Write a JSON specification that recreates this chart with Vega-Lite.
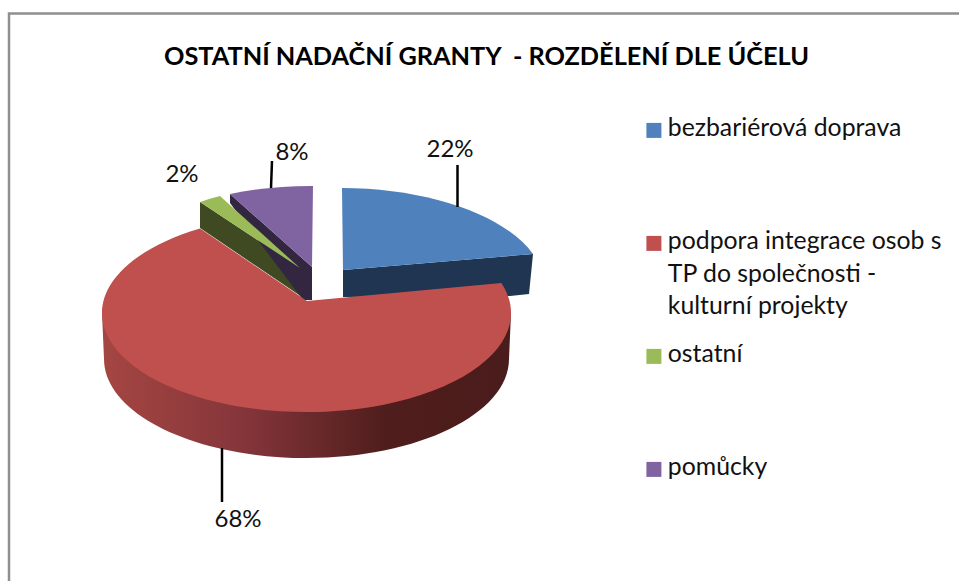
{
"$schema":"https://vega.github.io/schema/vega-lite/v6.json",
"width":959,"height":581,"padding":0,"autosize":"none","background":"white",
"config":{"view":{"stroke":null},"font":"Lato"},
"title":{"text":"OSTATNÍ NADAČNÍ GRANTY \u00a0- ROZDĚLENÍ DLE ÚČELU","font":"Lato","fontSize":25.3,"fontWeight":"bold","color":"#000000","anchor":"middle","frame":"group","offset":0,"baseline":"alphabetic","dy":90,"dx":7},
"data":{"values":[
{"category":"bezbariérová doprava","value":22,"label":"22%"},
{"category":"podpora integrace osob s TP do společnosti - kulturní projekty","value":68,"label":"68%"},
{"category":"ostatní","value":2,"label":"2%"},
{"category":"pomůcky","value":8,"label":"8%"}
]},
"resolve":{"scale":{"shape":"independent","fill":"independent","color":"independent"}},
"layer":[
{"mark":{"type":"square","size":225,"opacity":0},
"encoding":{"color":{"field":"category","sort":null,"scale":{"domain":["bezbariérová doprava","podpora integrace osob s TP do společnosti - kulturní projekty","ostatní","pomůcky"],"range":["#4f81bd","#c0504d","#9bbb59","#8064a2"]},
"legend":{"title":null,"orient":"none","legendX":641.5,"legendY":118,"symbolType":"square","symbolSize":225,"symbolOpacity":1,"labelFont":"Lato","labelFontSize":24.8,"labelColor":"#111111","labelLimit":400,"labelOffset":1.5,"rowPadding":22,"labelBaseline":"top",
"labelExpr":"indexof(datum.label,'podpora')==0 ? ['podpora integrace osob s','TP do společnosti -','kulturní projekty'] : [datum.label,' ',' ']",
"encode":{"labels":{"update":{"lineHeight":{"value":32.5},"dy":{"value":-14}}}}}}}},
{"data":{"values":[{"part":"frame"}]},"mark":{"type":"point","shape":"M-470.5,290.5 L-470.5,-277 L479.5,-277","size":4,"filled":false,"stroke":"#8f8f8f","strokeWidth":2.5,"opacity":1}},
{"transform":[{"filter":"datum.value != 68"}],
"mark":{"type":"point","filled":true,"size":4,"opacity":1},
"encoding":{
"shape":{"field":"category","legend":null,"scale":{"domain":["bezbariérová doprava","ostatní","pomůcky"],"range":["M-136.5,-20.5 L53.5,-36.5 L49.5,3.5 L30.5,5.5 L-136.5,6.5 Z","M-279.5,-88.5 L-179.5,-22.5 L-177.5,6.5 L-279.5,-62.5 Z","M-249.5,-96.5 L-167.5,-23.5 L-167.5,9.5 L-176.5,9.5 L-249.5,-87.5 Z"]}},
"fill":{"field":"category","legend":null,"scale":{"domain":["bezbariérová doprava","ostatní","pomůcky"],"range":["#1f3552","#3f4a22","#332640"]}}}},
{"transform":[{"filter":"datum.value == 68"}],
"mark":{"type":"point","filled":true,"size":4,"opacity":1,"shape":"M-377.5,22.5 L31.5,22.5 L29.5,68.5 A202.5,99 0 0 1 -375.5,68.5 Z",
"fill":{"gradient":"linear","x1":0,"x2":1,"y1":0,"y2":0,"stops":[{"offset":0,"color":"#a54642"},{"offset":0.35,"color":"#84353a"},{"offset":0.7,"color":"#4f1d1c"},{"offset":1,"color":"#4a1c1b"}]}}},
{"mark":{"type":"point","filled":true,"size":4,"opacity":1},
"encoding":{
"shape":{"field":"category","legend":null,"sort":null,"scale":{"domain":["bezbariérová doprava","podpora integrace osob s TP do společnosti - kulturní projekty","ostatní","pomůcky"],"range":["M-137.5,-102.5 A204,99 0 0 1 53.5,-36.5 L-136.5,-20.5 Z","M-279.5,-62 L-172.5,10.5 L21.9,-7.5 A204.5,99 0 1 1 -279.5,-62 Z","M-279.5,-88.5 A204,99 0 0 1 -259.5,-94.5 L-179.5,-22.5 Z","M-249.5,-96.5 A204,99 0 0 1 -166.5,-104.5 L-167.5,-23.5 Z"]}},
"fill":{"field":"category","legend":null,"sort":null,"scale":{"domain":["bezbariérová doprava","podpora integrace osob s TP do společnosti - kulturní projekty","ostatní","pomůcky"],"range":["#4f81bd","#c0504d","#9bbb59","#8064a2"]}}}},
{"transform":[{"filter":"datum.value != 2"}],
"mark":{"type":"point","filled":false,"size":4,"opacity":1,"stroke":"#000000","strokeWidth":2.5},
"encoding":{"shape":{"field":"category","legend":null,"scale":{"domain":["bezbariérová doprava","podpora integrace osob s TP do společnosti - kulturní projekty","pomůcky"],"range":["M-22,-125.5 L-22,-83.5","M-257.5,157.5 L-257.5,211.5","M-207.5,-129.5 L-208.5,-102.5"]}}}},
{"transform":[{"filter":"datum.value == 22"}],"mark":{"type":"text","align":"center","baseline":"alphabetic","fontSize":24,"font":"Lato","color":"#111111","dx":-29.5,"dy":-133.5},"encoding":{"text":{"field":"label"}}},
{"transform":[{"filter":"datum.value == 68"}],"mark":{"type":"text","align":"center","baseline":"alphabetic","fontSize":24,"font":"Lato","color":"#111111","dx":-241.5,"dy":236.5},"encoding":{"text":{"field":"label"}}},
{"transform":[{"filter":"datum.value == 2"}],"mark":{"type":"text","align":"center","baseline":"alphabetic","fontSize":24,"font":"Lato","color":"#111111","dx":-297.5,"dy":-108.5},"encoding":{"text":{"field":"label"}}},
{"transform":[{"filter":"datum.value == 8"}],"mark":{"type":"text","align":"center","baseline":"alphabetic","fontSize":24,"font":"Lato","color":"#111111","dx":-187.5,"dy":-130.5},"encoding":{"text":{"field":"label"}}}
]
}
